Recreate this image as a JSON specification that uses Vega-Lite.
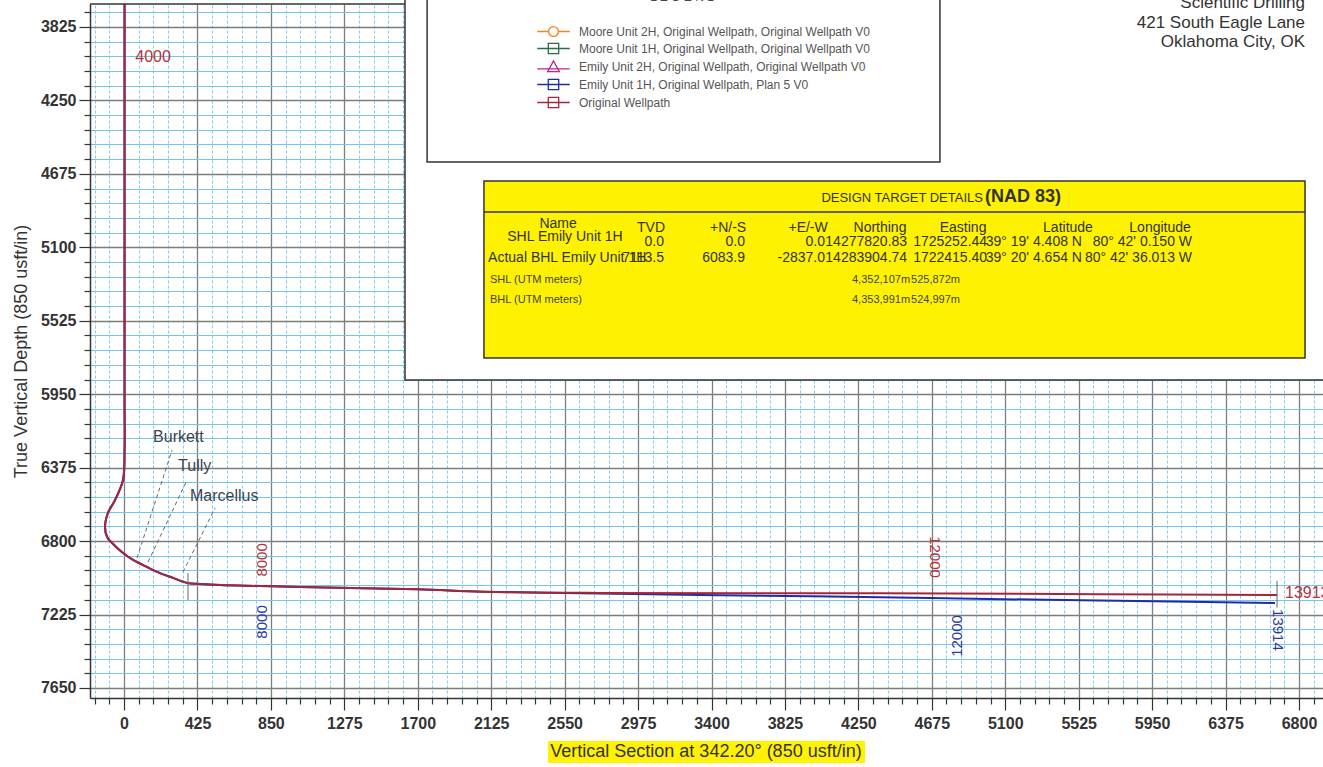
{
  "$schema": "https://vega.github.io/schema/vega-lite/v6.json",
  "width": 1233,
  "height": 694,
  "autosize": {"type": "none"},
  "padding": {"left": 90, "top": 4, "right": 0, "bottom": 69},
  "background": "white",
  "config": {"font": "Liberation Sans", "view": {"stroke": null}},
  "datasets": {
    "wells": [
      {"series": "Original Wellpath", "i": 1, "vs": 3, "tvd": 3692},
      {"series": "Original Wellpath", "i": 2, "vs": 3, "tvd": 5983},
      {"series": "Original Wellpath", "i": 3, "vs": 3, "tvd": 6273},
      {"series": "Original Wellpath", "i": 4, "vs": -6, "tvd": 6446},
      {"series": "Original Wellpath", "i": 5, "vs": -52, "tvd": 6562},
      {"series": "Original Wellpath", "i": 6, "vs": -93, "tvd": 6637},
      {"series": "Original Wellpath", "i": 7, "vs": -110, "tvd": 6718},
      {"series": "Original Wellpath", "i": 8, "vs": -98, "tvd": 6776},
      {"series": "Original Wellpath", "i": 9, "vs": -69, "tvd": 6811},
      {"series": "Original Wellpath", "i": 10, "vs": -6, "tvd": 6869},
      {"series": "Original Wellpath", "i": 11, "vs": 52, "tvd": 6909},
      {"series": "Original Wellpath", "i": 12, "vs": 133, "tvd": 6950},
      {"series": "Original Wellpath", "i": 13, "vs": 208, "tvd": 6985},
      {"series": "Original Wellpath", "i": 14, "vs": 284, "tvd": 7013},
      {"series": "Original Wellpath", "i": 15, "vs": 365, "tvd": 7042},
      {"series": "Original Wellpath", "i": 16, "vs": 440, "tvd": 7048},
      {"series": "Original Wellpath", "i": 17, "vs": 556, "tvd": 7054},
      {"series": "Original Wellpath", "i": 18, "vs": 787, "tvd": 7060},
      {"series": "Original Wellpath", "i": 19, "vs": 1019, "tvd": 7066},
      {"series": "Original Wellpath", "i": 20, "vs": 1696, "tvd": 7079},
      {"series": "Original Wellpath", "i": 21, "vs": 2078, "tvd": 7093},
      {"series": "Original Wellpath", "i": 22, "vs": 2755, "tvd": 7100},
      {"series": "Original Wellpath", "i": 23, "vs": 4375, "tvd": 7102},
      {"series": "Original Wellpath", "i": 24, "vs": 5648, "tvd": 7107},
      {"series": "Original Wellpath", "i": 25, "vs": 6673, "tvd": 7112},
      {"series": "Emily Unit 1H, Original Wellpath, Plan 5 V0", "i": 1, "vs": 3, "tvd": 3692},
      {"series": "Emily Unit 1H, Original Wellpath, Plan 5 V0", "i": 2, "vs": 3, "tvd": 5983},
      {"series": "Emily Unit 1H, Original Wellpath, Plan 5 V0", "i": 3, "vs": 3, "tvd": 6273},
      {"series": "Emily Unit 1H, Original Wellpath, Plan 5 V0", "i": 4, "vs": -6, "tvd": 6446},
      {"series": "Emily Unit 1H, Original Wellpath, Plan 5 V0", "i": 5, "vs": -52, "tvd": 6562},
      {"series": "Emily Unit 1H, Original Wellpath, Plan 5 V0", "i": 6, "vs": -93, "tvd": 6637},
      {"series": "Emily Unit 1H, Original Wellpath, Plan 5 V0", "i": 7, "vs": -110, "tvd": 6718},
      {"series": "Emily Unit 1H, Original Wellpath, Plan 5 V0", "i": 8, "vs": -98, "tvd": 6776},
      {"series": "Emily Unit 1H, Original Wellpath, Plan 5 V0", "i": 9, "vs": -69, "tvd": 6811},
      {"series": "Emily Unit 1H, Original Wellpath, Plan 5 V0", "i": 10, "vs": -6, "tvd": 6869},
      {"series": "Emily Unit 1H, Original Wellpath, Plan 5 V0", "i": 11, "vs": 52, "tvd": 6909},
      {"series": "Emily Unit 1H, Original Wellpath, Plan 5 V0", "i": 12, "vs": 133, "tvd": 6950},
      {"series": "Emily Unit 1H, Original Wellpath, Plan 5 V0", "i": 13, "vs": 208, "tvd": 6985},
      {"series": "Emily Unit 1H, Original Wellpath, Plan 5 V0", "i": 14, "vs": 284, "tvd": 7013},
      {"series": "Emily Unit 1H, Original Wellpath, Plan 5 V0", "i": 15, "vs": 365, "tvd": 7042},
      {"series": "Emily Unit 1H, Original Wellpath, Plan 5 V0", "i": 16, "vs": 440, "tvd": 7048},
      {"series": "Emily Unit 1H, Original Wellpath, Plan 5 V0", "i": 17, "vs": 556, "tvd": 7054},
      {"series": "Emily Unit 1H, Original Wellpath, Plan 5 V0", "i": 18, "vs": 787, "tvd": 7060},
      {"series": "Emily Unit 1H, Original Wellpath, Plan 5 V0", "i": 19, "vs": 1019, "tvd": 7066},
      {"series": "Emily Unit 1H, Original Wellpath, Plan 5 V0", "i": 20, "vs": 1696, "tvd": 7079},
      {"series": "Emily Unit 1H, Original Wellpath, Plan 5 V0", "i": 21, "vs": 2078, "tvd": 7093},
      {"series": "Emily Unit 1H, Original Wellpath, Plan 5 V0", "i": 22, "vs": 2639, "tvd": 7102},
      {"series": "Emily Unit 1H, Original Wellpath, Plan 5 V0", "i": 23, "vs": 3333, "tvd": 7112},
      {"series": "Emily Unit 1H, Original Wellpath, Plan 5 V0", "i": 24, "vs": 3987, "tvd": 7119},
      {"series": "Emily Unit 1H, Original Wellpath, Plan 5 V0", "i": 25, "vs": 4665, "tvd": 7130},
      {"series": "Emily Unit 1H, Original Wellpath, Plan 5 V0", "i": 26, "vs": 5648, "tvd": 7144},
      {"series": "Emily Unit 1H, Original Wellpath, Plan 5 V0", "i": 27, "vs": 6661, "tvd": 7158}
    ],
    "formations": [
      {"name": "Burkett", "vs": 278, "tvd": 6273},
      {"name": "Burkett", "vs": 75, "tvd": 6898},
      {"name": "Tully", "vs": 365, "tvd": 6446},
      {"name": "Tully", "vs": 139, "tvd": 6921},
      {"name": "Marcellus", "vs": 527, "tvd": 6608},
      {"name": "Marcellus", "vs": 341, "tvd": 6979}
    ],
    "formationLabels": [
      {"name": "Burkett", "vs": 168, "tvd": 6198},
      {"name": "Tully", "vs": 313, "tvd": 6365},
      {"name": "Marcellus", "vs": 382, "tvd": 6539}
    ],
    "markers": [
      {"vs": 370, "tvd": 6985, "tvd2": 7141},
      {"vs": 6673, "tvd": 7030, "tvd2": 7185}
    ]
  },
  "encoding": {
    "x": {
      "field": "vs", "type": "quantitative",
      "scale": {"domain": [-197, 6939], "nice": false, "zero": false},
      "axis": {
        "orient": "bottom", "title": null,
        "values": [-170,-85,0,85,170,255,340,425,510,595,680,765,850,935,1020,1105,1190,1275,1360,1445,1530,1615,1700,1785,1870,1955,2040,2125,2210,2295,2380,2465,2550,2635,2720,2805,2890,2975,3060,3145,3230,3315,3400,3485,3570,3655,3740,3825,3910,3995,4080,4165,4250,4335,4420,4505,4590,4675,4760,4845,4930,5015,5100,5185,5270,5355,5440,5525,5610,5695,5780,5865,5950,6035,6120,6205,6290,6375,6460,6545,6630,6715,6800,6885],
        "labelExpr": "datum.value % 425 === 0 ? format(datum.value, 'd') : ''",
        "labelOverlap": false, "labelFlush": false,
        "labelFontSize": 16, "labelFontWeight": "bold", "labelColor": "#333333", "labelPadding": 5,
        "tickSize": {"condition": {"test": "datum.value % 425 === 0", "value": 12}, "value": 6},
        "tickColor": "#333333", "tickWidth": 1.2,
        "domainColor": "#333333", "domainWidth": 1.5,
        "grid": true,
        "gridColor": {"condition": {"test": "datum.value % 425 === 0", "value": "#7d7d7d"}, "value": "#86ccef"},
        "gridDash": {"condition": {"test": "datum.value % 425 === 0", "value": []}, "value": [3, 2]},
        "gridWidth": {"condition": {"test": "datum.value % 425 === 0", "value": 1.3}, "value": 1}
      }
    },
    "y": {
      "field": "tvd", "type": "quantitative",
      "scale": {"domain": [3692, 7708], "nice": false, "zero": false, "reverse": true},
      "axis": {
        "orient": "left", "title": "True Vertical Depth (850 usft/in)",
        "titleFontSize": 18, "titleFontWeight": "normal", "titleColor": "#333333", "titlePadding": 10,
        "values": [3740,3825,3910,3995,4080,4165,4250,4335,4420,4505,4590,4675,4760,4845,4930,5015,5100,5185,5270,5355,5440,5525,5610,5695,5780,5865,5950,6035,6120,6205,6290,6375,6460,6545,6630,6715,6800,6885,6970,7055,7140,7225,7310,7395,7480,7565,7650],
        "labelExpr": "datum.value % 425 === 0 ? format(datum.value, 'd') : ''",
        "labelOverlap": false, "labelFlush": false,
        "labelFontSize": 16, "labelFontWeight": "bold", "labelColor": "#333333", "labelPadding": 3,
        "tickSize": {"condition": {"test": "datum.value % 425 === 0", "value": 11}, "value": 6},
        "tickColor": "#333333", "tickWidth": 1.2,
        "domainColor": "#333333", "domainWidth": 1.5,
        "grid": true,
        "gridColor": {"condition": {"test": "datum.value % 425 === 0", "value": "#7d7d7d"}, "value": "#74c4ec"},
        "gridWidth": {"condition": {"test": "datum.value % 425 === 0", "value": 1.3}, "value": 1}
      }
    }
  },
  "layer": [
    {
      "data": {"name": "wells"},
      "transform": [{"filter": "datum.series === 'Emily Unit 1H, Original Wellpath, Plan 5 V0'"}],
      "mark": {"type": "line", "strokeWidth": 2, "interpolate": "catmull-rom"},
      "encoding": {
        "order": {"field": "i", "type": "quantitative"},
        "color": {
          "field": "series", "type": "nominal",
          "scale": {
            "domain": ["Moore Unit 2H, Original Wellpath, Original Wellpath V0", "Moore Unit 1H, Original Wellpath, Original Wellpath V0", "Emily Unit 2H, Original Wellpath, Original Wellpath V0", "Emily Unit 1H, Original Wellpath, Plan 5 V0", "Original Wellpath"],
            "range": ["#f4821f", "#2f6b48", "#c2228a", "#1f2ca8", "#a3263a"]
          },
          "legend": {
            "orient": "none", "legendX": 456, "legendY": 20, "title": null, "padding": 0,
            "zindex": 1,
            "symbolSize": 169, "symbolStrokeWidth": 1.3,
            "labelFontSize": 12, "labelColor": "#555555", "labelOffset": 18, "labelLimit": 0,
            "rowPadding": 1,
            "encode": {
              "symbols": {
                "update": {
                  "shape": {"signal": "datum.value === 'Moore Unit 2H, Original Wellpath, Original Wellpath V0' ? 'M-2.5,0H-0.75M0.75,0H2.5M0.75,0A0.75,0.75,0,1,1,-0.75,0A0.75,0.75,0,1,1,0.75,0' : datum.value === 'Emily Unit 2H, Original Wellpath, Original Wellpath V0' ? 'M-2.5,0.35H2.5M0,-0.85L0.9,0.8H-0.9Z' : 'M-2.5,0H2.5M-0.8,-0.8H0.8V0.8H-0.8Z'"},
                  "fill": {"value": "transparent"},
                  "strokeWidth": {"value": 1.3}
                }
              }
            }
          }
        }
      }
    },
    {
      "data": {"name": "wells"},
      "transform": [{"filter": "datum.series === 'Original Wellpath'"}],
      "mark": {"type": "line", "strokeWidth": 2, "interpolate": "catmull-rom"},
      "encoding": {
        "order": {"field": "i", "type": "quantitative"},
        "color": {
          "field": "series", "type": "nominal",
          "scale": {
            "domain": ["Moore Unit 2H, Original Wellpath, Original Wellpath V0", "Moore Unit 1H, Original Wellpath, Original Wellpath V0", "Emily Unit 2H, Original Wellpath, Original Wellpath V0", "Emily Unit 1H, Original Wellpath, Plan 5 V0", "Original Wellpath"],
            "range": ["#f4821f", "#2f6b48", "#c2228a", "#1f2ca8", "#a3263a"]
          }
        }
      }
    },
    {
      "data": {"name": "formations"},
      "mark": {"type": "line", "color": "#5a6a7a", "strokeWidth": 1, "strokeDash": [4, 3]},
      "encoding": {"detail": {"field": "name"}}
    },
    {
      "data": {"name": "markers"},
      "mark": {"type": "rule", "color": "#666666", "strokeWidth": 1},
      "encoding": {"y2": {"field": "tvd2"}}
    },
    {
      "data": {"name": "formationLabels"},
      "mark": {"type": "text", "align": "left", "baseline": "middle", "fontSize": 16, "color": "#3c4650"},
      "encoding": {"text": {"field": "name"}}
    },
    {
      "data": {"values": [{"t": "4000", "vs": 168, "tvd": 3999}]},
      "mark": {"type": "text", "align": "center", "baseline": "middle", "fontSize": 16, "color": "#b2323c"},
      "encoding": {"text": {"field": "t"}}
    },
    {
      "data": {"values": [{"t": "13913", "vs": 6719, "tvd": 7100}]},
      "mark": {"type": "text", "align": "left", "baseline": "middle", "fontSize": 16, "color": "#b2323c"},
      "encoding": {"text": {"field": "t"}}
    },
    {
      "data": {"values": [{"t": "8000", "vs": 799, "tvd": 6909}]},
      "mark": {"type": "text", "align": "center", "baseline": "middle", "fontSize": 15, "angle": 270, "color": "#b2323c"},
      "encoding": {"text": {"field": "t"}}
    },
    {
      "data": {"values": [{"t": "12000", "vs": 4694, "tvd": 6892}]},
      "mark": {"type": "text", "align": "center", "baseline": "middle", "fontSize": 15, "angle": 90, "color": "#b2323c"},
      "encoding": {"text": {"field": "t"}}
    },
    {
      "data": {"values": [{"t": "8000", "vs": 799, "tvd": 7268}, {"t": "12000", "vs": 4821, "tvd": 7349}]},
      "mark": {"type": "text", "align": "center", "baseline": "middle", "fontSize": 15, "angle": 270, "color": "#2a3a9c"},
      "encoding": {"text": {"field": "t"}}
    },
    {
      "data": {"values": [{"t": "13914", "vs": 6679, "tvd": 7314}]},
      "mark": {"type": "text", "align": "center", "baseline": "middle", "fontSize": 15, "angle": 90, "color": "#2a3a9c"},
      "encoding": {"text": {"field": "t"}}
    },
    {
      "data": {"values": [{"vs": 1626, "vs2": 7100, "tvd": 3600, "tvd2": 5868}]},
      "mark": {"type": "rect", "fill": "white", "stroke": "#333333", "strokeWidth": 1.5},
      "encoding": {"x2": {"field": "vs2"}, "y2": {"field": "tvd2"}}
    },
    {
      "data": {"values": [{"vs": -197, "vs2": 1626, "tvd": 3692}]},
      "mark": {"type": "rule", "color": "#333333", "strokeWidth": 1.5},
      "encoding": {"x2": {"field": "vs2"}}
    },
    {
      "data": {"values": [{"vs": 1754, "vs2": 4722, "tvd": 3600, "tvd2": 4606}]},
      "mark": {"type": "rect", "fill": "white", "stroke": "#333333", "strokeWidth": 1.5},
      "encoding": {"x2": {"field": "vs2"}, "y2": {"field": "tvd2"}}
    },
    {
      "data": {"values": [{"t": "L E G E N D", "vs": 3235, "tvd": 3692}]},
      "mark": {"type": "text", "align": "center", "baseline": "bottom", "fontSize": 12, "color": "#444444"},
      "encoding": {"text": {"field": "t"}}
    },
    {
      "data": {"values": [{"vs": 2083, "vs2": 6835, "tvd": 4716, "tvd2": 5740}]},
      "mark": {"type": "rect", "fill": "#fff200", "stroke": "#333333", "strokeWidth": 1.5},
      "encoding": {"x2": {"field": "vs2"}, "y2": {"field": "tvd2"}}
    },
    {
      "data": {"values": [{"vs": 2083, "vs2": 6835, "tvd": 4896}]},
      "mark": {"type": "rule", "color": "#333333", "strokeWidth": 1.5},
      "encoding": {"x2": {"field": "vs2"}}
    },
    {
      "data": {"values": [{"t": "DESIGN TARGET DETAILS", "vs": 4971, "tvd": 4815}]},
      "mark": {"type": "text", "align": "right", "baseline": "middle", "fontSize": 13, "color": "#333333"},
      "encoding": {"text": {"field": "t"}}
    },
    {
      "data": {"values": [{"t": "(NAD 83)", "vs": 4983, "tvd": 4810}]},
      "mark": {"type": "text", "align": "left", "baseline": "middle", "fontSize": 18, "fontWeight": "bold", "color": "#333333"},
      "encoding": {"text": {"field": "t"}}
    },
    {
      "data": {"values": [
        {"t": "Name", "vs": 2512, "tvd": 4965},
        {"t": "TVD", "vs": 3050, "tvd": 4988},
        {"t": "+N/-S", "vs": 3496, "tvd": 4988},
        {"t": "+E/-W", "vs": 3959, "tvd": 4988},
        {"t": "Northing", "vs": 4375, "tvd": 4988},
        {"t": "Easting", "vs": 4856, "tvd": 4988},
        {"t": "Latitude", "vs": 5463, "tvd": 4988},
        {"t": "Longitude", "vs": 5996, "tvd": 4988},
        {"t": "SHL Emily Unit 1H", "vs": 2552, "tvd": 5040}
      ]},
      "mark": {"type": "text", "align": "center", "baseline": "middle", "fontSize": 14, "color": "#333333"},
      "encoding": {"text": {"field": "t"}}
    },
    {
      "data": {"values": [
        {"t": "Actual BHL Emily Unit 1H", "vs": 2107, "tvd": 5162}
      ]},
      "mark": {"type": "text", "align": "left", "baseline": "middle", "fontSize": 14, "color": "#333333"},
      "encoding": {"text": {"field": "t"}}
    },
    {
      "data": {"values": [
        {"t": "0.0", "vs": 3125, "tvd": 5069},
        {"t": "0.0", "vs": 3594, "tvd": 5069},
        {"t": "0.0", "vs": 4057, "tvd": 5069},
        {"t": "14277820.83", "vs": 4532, "tvd": 5069},
        {"t": "1725252.44", "vs": 4995, "tvd": 5069},
        {"t": "39° 19' 4.408 N", "vs": 5544, "tvd": 5069},
        {"t": "80° 42' 0.150 W", "vs": 6181, "tvd": 5069},
        {"t": "7113.5", "vs": 3125, "tvd": 5162},
        {"t": "6083.9", "vs": 3594, "tvd": 5162},
        {"t": "-2837.0", "vs": 4057, "tvd": 5162},
        {"t": "14283904.74", "vs": 4532, "tvd": 5162},
        {"t": "1722415.40", "vs": 4995, "tvd": 5162},
        {"t": "39° 20' 4.654 N", "vs": 5544, "tvd": 5162},
        {"t": "80° 42' 36.013 W", "vs": 6181, "tvd": 5162}
      ]},
      "mark": {"type": "text", "align": "right", "baseline": "middle", "fontSize": 14, "color": "#333333"},
      "encoding": {"text": {"field": "t"}}
    },
    {
      "data": {"values": [
        {"t": "SHL (UTM meters)", "vs": 2118, "tvd": 5289},
        {"t": "BHL  (UTM meters)", "vs": 2118, "tvd": 5405},
        {"t": "4,352,107m", "vs": 4213, "tvd": 5289},
        {"t": "525,872m", "vs": 4555, "tvd": 5289},
        {"t": "4,353,991m", "vs": 4213, "tvd": 5405},
        {"t": "524,997m", "vs": 4555, "tvd": 5405}
      ]},
      "mark": {"type": "text", "align": "left", "baseline": "middle", "fontSize": 11, "color": "#444444"},
      "encoding": {"text": {"field": "t"}}
    },
    {
      "data": {"values": [
        {"t": "Scientific Drilling", "vs": 6835, "tvd": 3686},
        {"t": "421 South Eagle Lane", "vs": 6835, "tvd": 3802},
        {"t": "Oklahoma City, OK", "vs": 6835, "tvd": 3912}
      ]},
      "mark": {"type": "text", "align": "right", "baseline": "middle", "fontSize": 17, "color": "#333333"},
      "encoding": {"text": {"field": "t"}}
    },
    {
      "data": {"values": [{"vs": 2454, "vs2": 4288, "tvd": 7957, "tvd2": 8084}]},
      "mark": {"type": "rect", "fill": "#fff200"},
      "encoding": {"x2": {"field": "vs2"}, "y2": {"field": "tvd2"}}
    },
    {
      "data": {"values": [{"t": "Vertical Section at 342.20° (850 usft/in)", "vs": 3368, "tvd": 8020}]},
      "mark": {"type": "text", "align": "center", "baseline": "middle", "fontSize": 18, "color": "#333333"},
      "encoding": {"text": {"field": "t"}}
    }
  ]
}
